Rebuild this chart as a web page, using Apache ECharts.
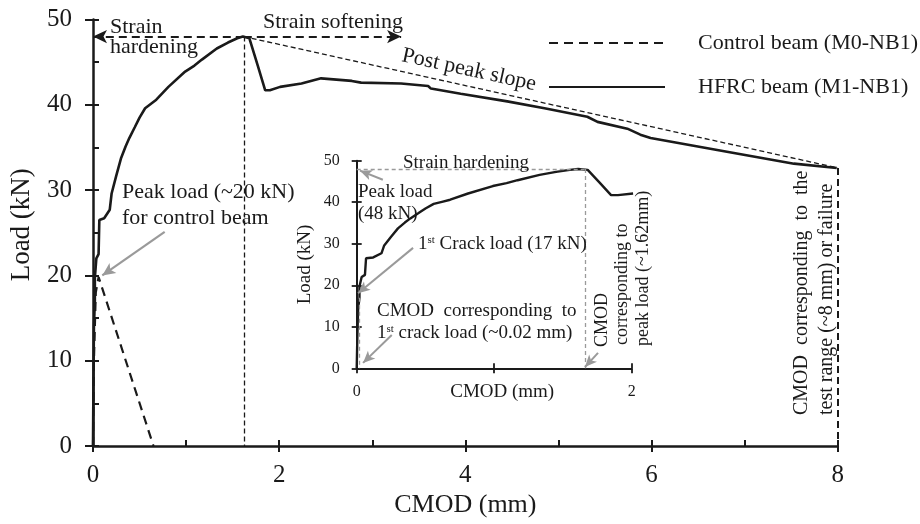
<!DOCTYPE html>
<html><head><meta charset="utf-8">
<script src="https://cdn.jsdelivr.net/npm/echarts@6/dist/echarts.min.js"></script>
<style>html,body{margin:0;padding:0;background:#fff}#c{width:920px;height:524px}</style>
</head><body><div id="c"></div>
<script>
// ---- data ----
const hfrcCMOD = [0, 0.005, 0.01, 0.02, 0.02, 0.036, 0.06, 0.068, 0.12, 0.18, 0.2, 0.25, 0.30, 0.35, 0.39, 0.45, 0.5, 0.56, 0.62, 0.68, 0.81, 0.99, 1.09, 1.17, 1.33, 1.45, 1.55, 1.61, 1.68, 1.77, 1.85, 1.9, 2.01, 2.24, 2.45, 2.78, 2.88, 3.31, 3.6, 3.63, 3.95, 4.45, 4.85, 5.31, 5.42, 5.74, 5.88, 5.99, 6.81, 7.53, 7.99];
const hfrcLoad = [0, 8, 14, 17, 19.7, 22, 22.5, 26.5, 26.7, 27.7, 29.6, 31.7, 33.7, 35.1, 36.1, 37.4, 38.5, 39.6, 40.1, 40.6, 42.1, 43.9, 44.6, 45.3, 46.6, 47.3, 47.8, 48, 47.8, 44.6, 41.7, 41.7, 42.1, 42.5, 43.1, 42.8, 42.6, 42.5, 42.2, 41.9, 41.3, 40.4, 39.6, 38.6, 38.0, 37.2, 36.5, 36.1, 34.5, 33.1, 32.6];
const ctrlCMOD = [0, 0.01, 0.03, 0.06, 0.65];
const ctrlLoad = [0, 10, 18, 19.8, 0];
const seriesNames = ['Control beam (M0-NB1)', 'HFRC beam (M1-NB1)'];
const mainXTicks = [0, 2, 4, 6, 8];
const mainYTicks = [0, 10, 20, 30, 40, 50];
const insetXTickLabels = [0, 2];
const insetYTicks = [0, 10, 20, 30, 40, 50];
const peakCMOD = 1.62, insetPeakCMOD = 1.66, peakLoad = 48;
const endCMOD = 8, endLoad = 32.6;
const crackCMOD = 0.02, crackLoad = 17;
const softeningArrowEnd = 3.31;

const FF = "'Liberation Serif','Times New Roman',serif";
const INK = '#1a1a1a';
const GREY = '#9a9a9a';

const zip = (xs, ys) => xs.map((x, i) => [x, ys[i]]);
const hfrcData = zip(hfrcCMOD, hfrcLoad);
const insetData = hfrcData.filter(p => p[0] <= 2.05);

function axisPair(grid, min, max, interval, cfg) {
  const base = {
    gridIndex: grid, type: 'value', min, max, interval,
    splitLine: {show: false}, position: cfg.position
  };
  return [
    Object.assign({}, base, {
      axisLine: {show: true, onZero: false, lineStyle: {color: INK, width: cfg.lw}},
      axisTick: {show: true, inside: true, length: cfg.inLen, lineStyle: {color: INK, width: cfg.tw}},
      minorTick: {show: !!cfg.minor, splitNumber: 2, length: cfg.inLen, lineStyle: {color: INK, width: cfg.tw}},
      axisLabel: {show: true, margin: cfg.margin, fontFamily: FF, fontSize: cfg.fs, color: INK, formatter: cfg.formatter},
      name: cfg.name, nameLocation: 'middle', nameGap: cfg.nameGap, nameMoveOverlap: false,
      nameTextStyle: {fontFamily: FF, fontSize: cfg.nfs, color: INK, padding: cfg.npad || 0}
    }),
    Object.assign({}, base, {
      axisLine: {show: false, onZero: false},
      axisTick: {show: true, inside: false, length: cfg.outLen, lineStyle: {color: INK, width: cfg.tw}},
      axisLabel: {show: false}
    })
  ];
}

const xAxes = [
  ...axisPair(0, 0, 8, 2, {position: 'bottom', lw: 2.5, tw: 2, inLen: 6, outLen: 6, minor: true, margin: 17, fs: 25,
    name: 'CMOD (mm)', nameGap: 46, nfs: 26, formatter: v => mainXTicks.includes(v) ? String(v) : ''}),
  ...axisPair(1, 0, 2, 1, {position: 'bottom', lw: 2, tw: 1.8, inLen: 5, outLen: 5, minor: false, margin: 15, fs: 16,
    name: 'CMOD (mm)', nameGap: 14, nfs: 19, npad: [0, 0, 0, 16], formatter: v => insetXTickLabels.includes(v) ? String(v) : ''})
];
const yAxes = [
  ...axisPair(0, 0, 50, 10, {position: 'left', lw: 2.5, tw: 2, inLen: 6, outLen: 8, minor: true, margin: 21, fs: 25,
    name: 'Load (kN)', nameGap: 58, nfs: 27, npad: [0, 0, 0, 16], formatter: v => mainYTicks.includes(v) ? String(v) : ''}),
  ...axisPair(1, 0, 50, 10, {position: 'left', lw: 2, tw: 1.8, inLen: 5, outLen: 5, minor: false, margin: 17, fs: 16,
    name: 'Load (kN)', nameGap: 42, nfs: 19, formatter: v => insetYTicks.includes(v) ? String(v) : ''})
];

function refSeries(grid, lineStyle, symbol, symbolSize, pairs) {
  return {
    type: 'line', xAxisIndex: grid * 2, yAxisIndex: grid * 2, data: [], silent: true, clip: false,
    markLine: {
      silent: true, animation: false, symbol, symbolSize,
      label: {show: false}, emphasis: {disabled: true},
      lineStyle,
      data: pairs.map(p => [{coord: p[0]}, {coord: p[1]}])
    }
  };
}

const series = [
  {name: seriesNames[0], type: 'line', xAxisIndex: 0, yAxisIndex: 0, data: zip(ctrlCMOD, ctrlLoad),
   showSymbol: false, symbol: 'none', itemStyle: {color: INK}, lineStyle: {color: INK, width: 2.2, type: [9, 6]}, z: 3},
  {name: seriesNames[1], type: 'line', xAxisIndex: 0, yAxisIndex: 0, data: hfrcData,
   showSymbol: false, symbol: 'none', itemStyle: {color: INK}, lineStyle: {color: INK, width: 2.6}, z: 4},
  {name: 'insetHFRC', type: 'line', xAxisIndex: 2, yAxisIndex: 2, data: insetData, clip: true,
   showSymbol: false, symbol: 'none', itemStyle: {color: INK}, lineStyle: {color: INK, width: 2.4}, z: 4},
  refSeries(0, {color: INK, width: 1.3, type: [5, 3]}, 'none', 0, [
    [[peakCMOD, peakLoad], [endCMOD, endLoad]],
    [[peakCMOD, peakLoad], [peakCMOD, 0]]
  ]),
  refSeries(0, {color: INK, width: 2, type: [7, 4]}, 'none', 0, [
    [[endCMOD, endLoad], [endCMOD, 0]]
  ]),
  refSeries(0, {color: INK, width: 2.2, type: [8, 5]}, ['none', 'arrow'], [10, 14], [
    [[peakCMOD, peakLoad], [0, peakLoad]],
    [[peakCMOD, peakLoad], [softeningArrowEnd, peakLoad]]
  ]),
  refSeries(0, {color: GREY, width: 2.2, type: 'solid'}, ['none', 'arrow'], [9, 13], [
    [[0.77, 25.1], [0.1, 20.0]]
  ]),
  refSeries(1, {color: GREY, width: 1.3, type: [4, 3]}, 'none', 0, [
    [[0, peakLoad], [insetPeakCMOD, peakLoad]],
    [[insetPeakCMOD, peakLoad], [insetPeakCMOD, 0]],
    [[crackCMOD, crackLoad], [crackCMOD, 0]]
  ]),
  refSeries(1, {color: GREY, width: 2, type: 'solid'}, ['none', 'arrow'], [8, 12], [
    [[0.19, 45.4], [0.024, 47.6]],
    [[0.41, 29.0], [0.01, 18.1]],
    [[0.255, 8.0], [0.046, 1.3]],
    [[1.755, 3.7], [1.66, 0.3]]
  ])
];

function txt(text, x, y, fs, opts) {
  opts = opts || {};
  return {
    type: 'text', x, y, rotation: opts.rot || 0, silent: true, z: 100,
    style: {
      text, fill: INK, fontFamily: FF, fontSize: fs,
      align: opts.align || 'left', verticalAlign: 'middle',
      rich: {sup: {fontSize: Math.round(fs * 0.6), fontFamily: FF, fill: INK, verticalAlign: 'top', lineHeight: fs}, n: {fontSize: fs, fontFamily: FF, fill: INK, lineHeight: fs}}
    }
  };
}
const R = Math.PI / 2;
const graphics = [
  txt('Strain', 110, 27, 22),
  txt('hardening', 110, 47, 22),
  txt('Strain softening', 263, 22, 22),
  txt('Post peak slope', 469, 70, 22, {align: 'center', rot: -0.216}),
  txt('Peak load (~20 kN)', 122, 192, 22),
  txt('for control beam', 122, 218, 22),
  txt('CMOD  corresponding  to  the', 802, 415, 20, {rot: R}),
  txt('test range (~8 mm) or failure', 827, 415, 20, {rot: R}),
  txt('Strain hardening', 403, 163, 19),
  txt('Peak load', 358, 192, 19),
  txt('(48 kN)', 358, 214, 19),
  txt('{n|1}{sup|st}{n| Crack load (17 kN)}', 418, 244, 19),
  txt('CMOD  corresponding  to', 377, 311, 19),
  txt('{n|1}{sup|st}{n| crack load (~0.02 mm)}', 377, 333, 19),
  txt('CMOD', 602, 347, 18, {rot: R}),
  txt('corresponding to', 622, 345, 18, {rot: R}),
  txt('peak load (~1.62mm)', 643, 346, 18, {rot: R})
];

const chart = echarts.init(document.getElementById('c'), null, {renderer: 'canvas'});
chart.setOption({
  animation: false,
  backgroundColor: '#fff',
  grid: [
    {left: 91, top: 19.5, width: 746.7, height: 426.5},
    {left: 356.7, top: 160.7, width: 275, height: 207.6}
  ],
  xAxis: xAxes,
  yAxis: yAxes,
  legend: {
    orient: 'vertical', left: 548, top: 32, padding: 0, itemWidth: 116, itemHeight: 14, itemGap: 22,
    selectedMode: false, data: seriesNames,
    itemStyle: {opacity: 0},
    textStyle: {fontFamily: FF, fontSize: 22, color: INK, padding: [0, 0, 0, 28]}
  },
  series,
  graphic: graphics
});
</script></body></html>
